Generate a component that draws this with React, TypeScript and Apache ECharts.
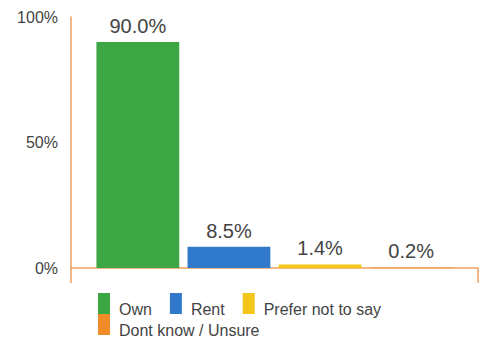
import React, { useEffect, useRef } from "react";
import * as echarts from "echarts";

const categories = [""];
const seriesNames = ["Own", "Rent", "Prefer not to say", "Dont know / Unsure"];
const seriesValues = [90.0, 8.5, 1.4, 0.2];
const seriesColors = ["#3ea745", "#3079cb", "#f3c61b", "#f28c28"];
const yTicks = [0, 50, 100];

export default function App() {
  const ref = useRef<HTMLDivElement>(null);
  useEffect(() => {
    if (!ref.current) return;
    const chart = echarts.init(ref.current, undefined, { renderer: "svg" });
    const font = "Liberation Sans, Arial, sans-serif";
    const legendText = {
      fontSize: 16,
      color: "#444444",
      fontFamily: font,
      rich: {
        t: { fontSize: 16, color: "#444444", fontFamily: font, padding: [11, 0, 0, 4] },
      },
    };
    const legendFormatter = (name: string) => `{t|${name}}`;
    chart.setOption({
      animation: false,
      grid: { left: 71, right: 14, top: 17, bottom: 69 },
      legend: [
        {
          data: seriesNames.slice(0, 3),
          left: 98,
          top: 293,
          padding: 0,
          orient: "horizontal",
          itemWidth: 12,
          itemHeight: 21,
          itemGap: 18,
          icon: "rect",
          formatter: legendFormatter,
          textStyle: legendText,
        },
        {
          data: seriesNames.slice(3),
          left: 98,
          top: 314,
          padding: 0,
          itemWidth: 12,
          itemHeight: 21,
          icon: "rect",
          formatter: legendFormatter,
          textStyle: legendText,
        },
      ],
      xAxis: {
        type: "category",
        data: categories,
        boundaryGap: true,
        axisLine: { lineStyle: { color: "#f0a060", width: 1.5 } },
        axisTick: { show: true, length: 15, lineStyle: { color: "#f0a060", width: 1.5 } },
        axisLabel: { show: false },
      },
      yAxis: {
        type: "value",
        min: yTicks[0],
        max: yTicks[yTicks.length - 1],
        interval: 50,
        axisLine: { show: true, lineStyle: { color: "#f0a060", width: 1.5 } },
        axisTick: { show: false },
        splitLine: { show: false },
        axisLabel: {
          formatter: (v: number) => v + "%",
          fontSize: 16,
          color: "#444444",
          fontFamily: font,
          margin: 13,
        },
      },
      series: seriesNames.map((name, i) => ({
        name,
        type: "bar",
        data: [seriesValues[i]],
        barCategoryGap: "12.5%",
        barGap: "10%",
        itemStyle: { color: seriesColors[i] },
        label: {
          show: true,
          position: "top",
          distance: 6,
          formatter: (p: any) => p.value.toFixed(1) + "%",
          fontSize: 20,
          color: "#444444",
          fontFamily: font,
        },
      })),
    });
    return () => chart.dispose();
  }, []);
  return <div ref={ref} style={{ width: 492, height: 337, position: "absolute", left: 0, top: 0 }} />;
}
